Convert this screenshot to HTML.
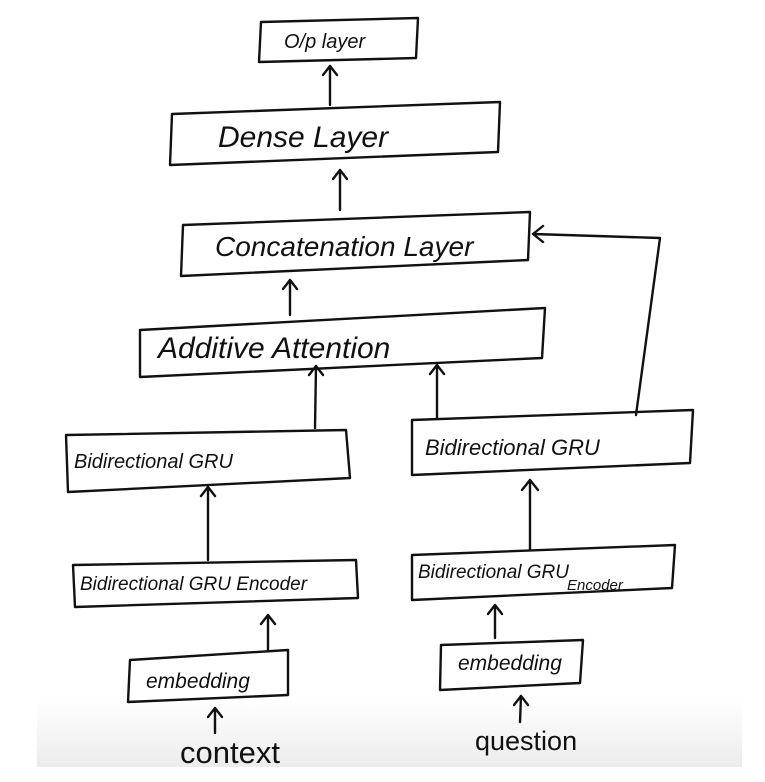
<!DOCTYPE html>
<html><head><style>
html,body{margin:0;padding:0;background:#fff;}
svg{display:block}
text{font-family:"Liberation Sans",sans-serif;fill:#111;}
</style></head><body>
<svg width="765" height="782" viewBox="0 0 765 782">
<defs>
<linearGradient id="g" x1="0" y1="0" x2="0" y2="1">
<stop offset="0" stop-color="#fff"/><stop offset="1" stop-color="#ececec"/>
</linearGradient>
</defs>
<rect x="37" y="700" width="705" height="67" fill="url(#g)"/>
<g fill="none" stroke="#111" stroke-width="2.4" stroke-linecap="round" stroke-linejoin="round">
<path d="M261 22 L418 18 L416 58 L259 62 Z"/>
<path d="M172 114 L500 102 L498 152 L170 165 Z"/>
<path d="M183 225 L530 212 L528 260 L181 276 Z"/>
<path d="M140 330 L545 308 L542 358 L140 377 Z"/>
<path d="M66 435 L346 430 L350 478 L68 492 Z"/>
<path d="M412 420 L693 410 L690 463 L412 475 Z"/>
<path d="M73 565 L356 560 L358 598 L75 607 Z"/>
<path d="M412 555 L675 545 L672 588 L412 600 Z"/>
<path d="M130 660 L288 650 L288 695 L128 702 Z"/>
<path d="M441 645 L583 640 L580 683 L440 690 Z"/>
<path d="M330 105 L330 66 M323 75 L330 66 L337 75"/>
<path d="M340 210 L340 170 M333 179 L340 170 L347 179"/>
<path d="M290 315 L290 280 M283 289 L290 280 L297 289"/>
<path d="M315 428 L316 366 M309 375 L316 366 L323 375"/>
<path d="M437 418 L437 365 M430 374 L437 365 L444 374"/>
<path d="M208 560 L208 487 M201 496 L208 487 L215 496"/>
<path d="M530 550 L530 480 M522 490 L530 480 L538 490"/>
<path d="M268 650 L268 615 M261 624 L268 615 L275 624"/>
<path d="M495 638 L495 605 M488 614 L495 605 L502 614"/>
<path d="M215 733 L215 708 M208 717 L215 708 L222 717"/>
<path d="M520 722 L521 696 M514 705 L521 696 L528 705"/>
<path d="M636 415 L660 238 L533 234 M543 226 L533 234 L543 242"/>
</g>
<g font-style="italic">
<text x="284" y="48" font-size="20">O/p layer</text>
<text x="218" y="147" font-size="30">Dense Layer</text>
<text x="215" y="256" font-size="28">Concatenation Layer</text>
<text x="158" y="358" font-size="30">Additive Attention</text>
<text x="74" y="468" font-size="20">Bidirectional GRU</text>
<text x="425" y="455" font-size="22">Bidirectional GRU</text>
<text x="80" y="590" font-size="19">Bidirectional GRU Encoder</text>
<text x="418" y="578" font-size="19">Bidirectional GRU</text>
<text x="567" y="590" font-size="15">Encoder</text>
<text x="146" y="688" font-size="21">embedding</text>
<text x="458" y="670" font-size="21">embedding</text>
</g>
<text x="180" y="763" font-size="31">context</text>
<text x="475" y="750" font-size="27">question</text>
</svg>
</body></html>
